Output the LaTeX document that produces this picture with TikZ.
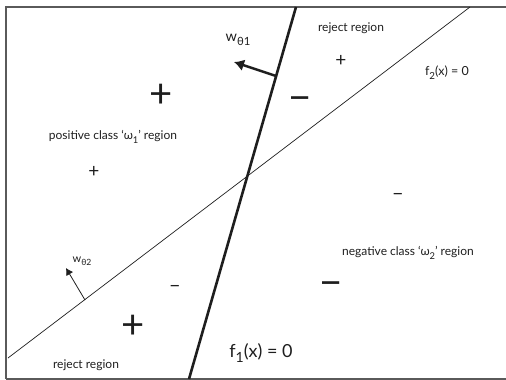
\documentclass[tikz,border=0pt]{standalone}
\usepackage{fontspec}
\setmainfont{Lato}
\usetikzlibrary{arrows.meta}
\definecolor{Marco}{HTML}{5A5A5A}
\definecolor{Trazo}{HTML}{1E1E1E}
\newcommand{\bajo}[1]{\raisebox{-0.6ex}{\scalebox{0.78}{#1}}}

\begin{document}
\begin{tikzpicture}[
  x=1pt,y=-1pt,
  font=\fontsize{12}{14}\selectfont,
  >=Latex,
  etiq/.style={inner sep=0pt,text=Trazo},
  ecuacion/.style={etiq,font=\fontsize{18}{20}\selectfont},
  signogr/.style={etiq,font=\fontsize{40}{40}\selectfont},
  signoch/.style={etiq,font=\fontsize{19}{19}\selectfont},
  frontera/.style={Trazo,line width=2.6pt},
  normal/.style={-{Latex[length=7pt,width=8pt]},Trazo}
]
  \useasboundingbox (0,0) rectangle (506,380);
  % marco abierto a la derecha
  \draw[Marco,line width=1.4pt] (506,7) -- (6,7) -- (6,379);
  \draw[Marco,line width=2pt] (6,379) -- (506,379);

  % las dos fronteras de decision
  \coordinate (fa) at (296,7);
  \coordinate (fb) at (189,379);
  \coordinate (ga) at (470,7);
  \coordinate (gb) at (8,358);
  \draw[frontera] (fa) -- (fb);
  \draw[Trazo,line width=0.7pt] (gb) -- (ga);

  % vectores normales
  \coordinate (wone) at (276,76);
  \coordinate (wonetip) at (234,62);
  \coordinate (wtwo) at (85,300);
  \coordinate (wtwotip) at (66,268);
  \draw[normal,line width=2.4pt,-{Latex[length=10pt,width=12pt]}] (wone) -- (wonetip);
  \draw[normal,line width=0.8pt] (wtwo) -- (wtwotip);
  \node[etiq,font=\fontsize{14.5}{16}\selectfont] (lwone) at (238,40) {w\bajo{θ1}};
  \node[etiq,font=\fontsize{11}{12}\selectfont] (lwtwo) at (82,261) {w\bajo{θ2}};

  % ecuaciones de las fronteras
  \node[ecuacion] (lfone) at (261,353) {f\bajo{1}(x) = 0};
  \node[etiq,font=\fontsize{12.5}{14}\selectfont] (lftwo) at (447,73) {f\bajo{2}(x) = 0};

  % regiones
  \node[etiq] (rtop) at (351,28) {reject region};
  \node[etiq] (rbot) at (86,365) {reject region};
  \node[etiq] (pos) at (113,137) {positive class `ω\bajo{1}’ region};
  \node[etiq] (neg) at (408,253) {negative class `ω\bajo{2}’ region};

  % signos
  \node[signogr] (pone) at (161,96) {+};
  \node[signoch] (ptwo) at (94,172) {+};
  \node[signoch] (pthree) at (341,61) {+};
  \node[signogr] (pfour) at (133,327) {+};
  \node[signogr] (mone) at (300,104) {−};
  \node[signogr] (mtwo) at (331,289) {−};
  \node[signoch] (mthree) at (398,197) {−};
  \node[signoch] (mfour) at (175,289) {−};
\end{tikzpicture}
\end{document}
